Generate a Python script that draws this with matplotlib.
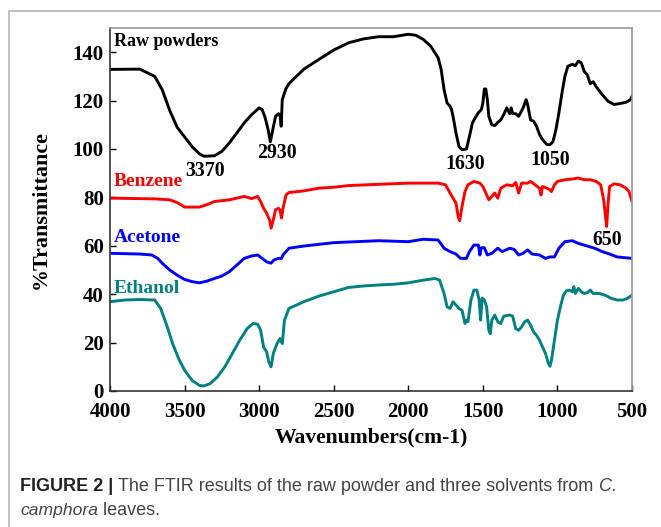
import matplotlib
matplotlib.use("Agg")
import matplotlib.pyplot as plt
from matplotlib.patches import Rectangle

# FTIR spectra
raw_wn = [4000, 3800, 3700, 3650, 3600, 3550, 3500, 3450, 3400, 3370, 3300, 3250, 3200, 3150,
          3100, 3050, 3000, 2980, 2960, 2940, 2925, 2910, 2890, 2870, 2860, 2852, 2845, 2820,
          2800, 2750, 2700, 2600, 2500, 2400, 2300, 2200, 2100, 2000, 1950, 1900, 1850, 1800,
          1780, 1760, 1740, 1720, 1710, 1700, 1680, 1660, 1640, 1610, 1590, 1570, 1550, 1530,
          1510, 1500, 1490, 1480, 1470, 1460, 1440, 1420, 1400, 1380, 1360, 1340, 1320, 1310,
          1300, 1280, 1260, 1230, 1210, 1200, 1180, 1160, 1140, 1120, 1100, 1070, 1050, 1030,
          1010, 990, 970, 950, 930, 900, 880, 860, 840, 820, 800, 780, 760, 740, 700, 660, 620,
          580, 540, 510, 500]
raw_t = [132.9, 133, 130, 124.5, 116, 109, 105, 101, 98, 97, 97.2, 99, 102.5, 106.6,
         110.8, 114.2, 117, 116.3, 113, 108, 103, 107.5, 113.5, 114.6, 114, 109.4, 120.4, 125,
         127, 130, 133, 137, 140.9, 143.9, 145.5, 146.4, 146.4, 147.4, 147, 145.3, 142.5, 137.7,
         133, 124.5, 119, 117.7, 116.3, 113.5, 106.6, 101, 99.7, 100, 105.2, 110.8, 113, 115,
         116.3, 119, 124.8, 124.8, 120.4, 113.5, 110, 109.7, 111, 112, 114.2, 117, 114.6, 117,
         114.6, 114.6, 113.5, 117, 120.4, 118.4, 112, 111.5, 109.4, 106, 103.9, 101.8, 101.8, 103,
         108, 115, 123, 130, 134.2, 135, 134.4, 136.3, 135.6, 132, 130.7, 127, 127.8, 125.7, 122.5,
         119.7, 118.4, 118.8, 119.3, 120.4, 121.8]

benz_wn = [4000, 3700, 3600, 3550, 3500, 3400, 3350, 3300, 3200, 3100, 3050, 3010, 2990, 2970,
           2950, 2930, 2920, 2905, 2890, 2870, 2860, 2850, 2840, 2820, 2800, 2700, 2600, 2500,
           2400, 2000, 1800, 1750, 1720, 1700, 1680, 1665, 1655, 1640, 1620, 1600, 1560, 1520,
           1500, 1480, 1460, 1440, 1420, 1400, 1380, 1340, 1300, 1280, 1260, 1240, 1200, 1180,
           1150, 1120, 1110, 1100, 1070, 1050, 1040, 1020, 1000, 950, 900, 860, 820, 780, 740,
           710, 690, 680, 670, 660, 650, 620, 580, 540, 520, 500]
benz_t = [79.7, 79.4, 79, 77.9, 76, 76, 77, 78.3, 79, 80.4, 79.5, 80.4, 78.3, 75.5,
          73.5, 70.7, 67.3, 70.7, 74.9, 75.5, 74.6, 71.5, 75.5, 81, 82, 82.7, 83.8, 84.2,
          84.9, 85.9, 85.9, 85.2, 81.8, 79.7, 77.6, 72, 70.4, 76.2, 82.4, 85.2, 86.6, 85.9,
          84.5, 81.8, 79, 80.4, 81.8, 79.7, 83.8, 85.2, 84.8, 86.2, 81.8, 85.9, 85.9, 86.6,
          85.2, 83.8, 81, 84.5, 83.8, 83.1, 82.4, 85.2, 86.6, 87.3, 87.6, 88, 87.3, 87.3, 86.6,
          85.2, 79, 73.5, 68, 77.6, 84.5, 85.6, 85.2, 83.8, 82.4, 78.3]

acet_wn = [4000, 3800, 3720, 3680, 3650, 3600, 3550, 3500, 3450, 3400, 3350, 3300, 3250, 3200,
           3150, 3100, 3050, 3010, 2980, 2950, 2920, 2900, 2870, 2850, 2840, 2800, 2700, 2500,
           2200, 2000, 1900, 1800, 1760, 1720, 1680, 1650, 1610, 1590, 1560, 1530, 1520, 1510,
           1490, 1470, 1440, 1400, 1370, 1320, 1290, 1260, 1230, 1200, 1170, 1120, 1080, 1050,
           1020, 990, 950, 900, 860, 800, 750, 700, 650, 600, 500]
acet_t = [56.9, 56.6, 56.2, 54.8, 52.8, 50, 47.9, 46.1, 45.2, 44.7, 45.4, 46.5, 47.5, 49.3,
          52, 54.8, 55.8, 56.2, 54.8, 53.4, 52.8, 54.2, 54.8, 54.8, 56.2, 59, 59.9, 61.3,
          62.1, 61.7, 62.7, 62.4, 59, 57.6, 56.6, 54.8, 54.8, 57.6, 60.3, 60.3, 56.2, 59.2,
          59.2, 56.2, 56.9, 59, 57.6, 59, 58.5, 56.2, 56.9, 58.3, 56.6, 56.2, 54.8, 55.4,
          55.4, 59, 61.7, 62.1, 61, 59.9, 59, 57.6, 56.6, 55.4, 54.8]

eth_wn = [4000, 3900, 3800, 3700, 3660, 3620, 3580, 3540, 3500, 3450, 3400, 3370, 3330, 3280,
          3230, 3180, 3130, 3080, 3040, 3010, 2990, 2970, 2950, 2935, 2920, 2905, 2880, 2860,
          2845, 2830, 2800, 2750, 2700, 2600, 2500, 2400, 2300, 2200, 2100, 2000, 1900, 1820,
          1790, 1760, 1740, 1720, 1700, 1680, 1660, 1640, 1620, 1610, 1600, 1580, 1560, 1540,
          1525, 1515, 1505, 1490, 1475, 1460, 1450, 1440, 1420, 1400, 1380, 1360, 1320, 1300,
          1280, 1260, 1240, 1220, 1200, 1180, 1160, 1140, 1120, 1100, 1080, 1060, 1050, 1040,
          1020, 1000, 980, 960, 940, 920, 900, 890, 880, 860, 840, 820, 800, 780, 760, 720,
          680, 640, 600, 560, 530, 500]
eth_t = [36.9, 37.6, 37.8, 37.6, 34.1, 27.2, 19.6, 13.4, 8.6, 4.4, 2.3, 2.1, 3, 5.8,
         10, 15.5, 21, 25.8, 27.9, 27.6, 25.1, 18.2, 16.2, 12, 10, 15.5, 19.6, 21.7,
         19.6, 29.3, 34.1, 35.5, 36.9, 39.2, 41, 42.8, 43.4, 43.8, 44.1, 44.7, 45.8, 46.5,
         45.8, 40.3, 34.8, 34.1, 36.9, 35.5, 34.1, 33.4, 27.9, 29.3, 28.6, 37.6, 41.7, 41.7,
         37.6, 29.3, 38.4, 37.6, 34.8, 25.1, 23.7, 29.3, 31.4, 28.6, 27.9, 30.9, 31.4, 30.9,
         25.8, 25.1, 26.5, 28.6, 29.3, 27.2, 24.4, 23, 21, 18.2, 15.5, 11.3, 10.2, 12.7,
         21, 29.3, 34.8, 39.6, 41.4, 41.7, 41, 43.1, 40.3, 42.4, 41, 40.3, 40.6, 41.7, 40.3, 40.3,
         39.6, 38.3, 37.6, 37.6, 38.3, 39.6]

serif = ["Liberation Serif", "DejaVu Serif"]
plt.rcParams['font.family'] = serif

fig = plt.figure(figsize=(6.61, 5.27), dpi=100)
fig.patches.append(Rectangle((9 / 661, -0.05), 1.1, 1 - 11 / 527 + 0.05, transform=fig.transFigure,
                             fill=False, edgecolor='#b5b5b5', linewidth=1.2))

ax = fig.add_axes([110 / 661, 1 - 391 / 527, 522 / 661, 363 / 527])
ax.plot(raw_wn, raw_t, color='black', lw=2.1)
ax.plot(benz_wn, benz_t, color='#ff0000', lw=2.1)
ax.plot(acet_wn, acet_t, color='#0000ff', lw=2.1)
ax.plot(eth_wn, eth_t, color='#008080', lw=2.1)

ax.set_xlim(4000, 500)
ax.set_ylim(0, 150)
ax.set_xticks([4000, 3500, 3000, 2500, 2000, 1500, 1000, 500])
ax.set_yticks([0, 20, 40, 60, 80, 100, 120, 140])
ax.tick_params(direction='in', length=4, width=1, labelsize=15)
ax.tick_params(axis='x', pad=8)
ax.tick_params(axis='y', pad=4.5)
for lab in ax.get_xticklabels() + ax.get_yticklabels():
    lab.set_fontweight('bold')
for s in ['left', 'bottom']:
    ax.spines[s].set_color('#333333')
for s in ['top', 'right']:
    ax.spines[s].set_color('#999999')
for s in ax.spines.values():
    s.set_linewidth(1.2)

ax.set_xlabel('Wavenumbers(cm-1)', fontsize=15.6, fontweight='bold', labelpad=4)
ax.set_ylabel('%Transmittance', fontsize=15.8, fontweight='bold', labelpad=16)

ax.text(3975, 144.5, 'Raw powders', fontsize=13, fontweight='bold', va='center', ha='left')
ax.text(3975, 86.5, 'Benzene', fontsize=14, fontweight='bold', color='#ff0000', va='center')
ax.text(3975, 63.5, 'Acetone', fontsize=14, fontweight='bold', color='#0000ff', va='center')
ax.text(3975, 42.5, 'Ethanol', fontsize=14, fontweight='bold', color='#008080', va='center')

ax.text(3363, 91, '3370', fontsize=14.3, fontweight='bold', ha='center', va='center')
ax.text(2880, 98.5, '2930', fontsize=14.3, fontweight='bold', ha='center', va='center')
ax.text(1620, 94, '1630', fontsize=14.3, fontweight='bold', ha='center', va='center')
ax.text(1050, 95.5, '1050', fontsize=14.3, fontweight='bold', ha='center', va='center')
ax.text(665, 62.4, '650', fontsize=14.3, fontweight='bold', ha='center', va='center')

# caption with mixed styles, placed piece by piece
sans = ["Liberation Sans", "DejaVu Sans"]
fig.canvas.draw()
r = fig.canvas.get_renderer()

def put(x, y, s, size=13, **kw):
    t = fig.text(x, y, s, family=sans, fontsize=size, va='baseline', transform=None, **kw)
    return x + t.get_window_extent(r).width

line1 = 527 - 491
line2 = 527 - 515
x = put(20, line1, 'FIGURE 2 | ', fontweight='bold', color='#222222')
x = put(x, line1, 'The FTIR results of the raw powder and three solvents from ', color='#444444')
put(x, line1, 'C.', style='italic', color='#444444')
x = put(20, line2, 'camphora', size=12.6, style='italic', color='#444444')
put(x, line2, ' leaves.', color='#444444')

fig.savefig('out.png', dpi=100)
